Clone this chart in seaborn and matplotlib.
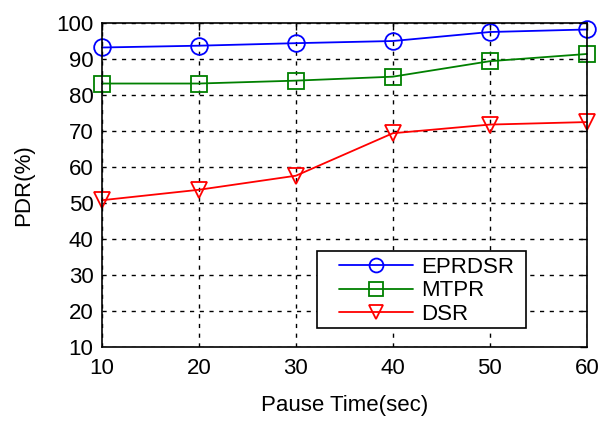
import matplotlib
matplotlib.use("Agg")
import matplotlib.pyplot as plt
from matplotlib.patches import Rectangle
import seaborn as sns
import pandas as pd

pause_time = [10, 20, 30, 40, 50, 60]
eprdsr = [93.2, 93.7, 94.4, 95.0, 97.5, 98.2]
mtpr = [83.2, 83.2, 84.0, 85.1, 89.4, 91.4]
dsr = [50.8, 53.7, 57.6, 69.4, 71.8, 72.5]
series_names = ["EPRDSR", "MTPR", "DSR"]
y_ticks = [10, 20, 30, 40, 50, 60, 70, 80, 90, 100]

df = pd.DataFrame({
    "Pause Time(sec)": pause_time * 3,
    "PDR(%)": eprdsr + mtpr + dsr,
    "Series": [series_names[0]] * 6 + [series_names[1]] * 6 + [series_names[2]] * 6,
})

sns.set_style("white")
plt.rcParams['font.family'] = ['Liberation Sans', 'DejaVu Sans']
plt.rcParams['text.color'] = 'black'
plt.rcParams['axes.labelcolor'] = 'black'

fig = plt.figure(figsize=(6.1, 4.26), dpi=100)
ax = fig.add_axes([0.167, 0.185, 0.795, 0.761])

sns.lineplot(data=df, x="Pause Time(sec)", y="PDR(%)", hue="Series", style="Series",
             palette={"EPRDSR": "#0000ff", "MTPR": "#008000", "DSR": "#ff0000"},
             markers={"EPRDSR": "o", "MTPR": "s", "DSR": "v"},
             dashes=False, markersize=12, markerfacecolor="none",
             markeredgewidth=1.3, linewidth=1.3, ax=ax)
for line in ax.get_lines():
    line.set_markerfacecolor("none")
    line.set_markeredgecolor(line.get_color())
    line.set_clip_on(False)

ax.set_xlim(10, 60)
ax.set_ylim(10, 100)
ax.set_xticks(pause_time)
ax.set_yticks(y_ticks)
ax.grid(True, color="black", linestyle=(0, (3, 4)), linewidth=1.0)
for s in ax.spines.values():
    s.set_color("black")
    s.set_linewidth(1.2)
ax.tick_params(direction="in", length=5, width=1, top=True, right=True,
               labelsize=16, colors="black")
ax.tick_params(axis="x", pad=8)
ax.tick_params(axis="y", pad=6)
ax.set_xlabel("Pause Time(sec)", fontsize=16, labelpad=11, color="black")
ax.set_ylabel("PDR(%)", fontsize=16, labelpad=16, color="black")

# legend frame (wider horizontal padding than vertical, as in the reference)
frame = Rectangle((0.443, 0.059), 0.431, 0.237, transform=ax.transAxes,
                  facecolor="white", edgecolor="black", linewidth=1.2, zorder=4.5)
ax.add_patch(frame)

handles, labels = ax.get_legend_handles_labels()
leg = ax.legend(handles, labels, loc="lower right", bbox_to_anchor=(0.851, 0.068),
                fontsize=16, frameon=False,
                handlelength=3.3, handletextpad=0.4, labelspacing=0.12,
                borderpad=0.0, borderaxespad=0.0)
leg.set_zorder(5)
for lh in leg.get_lines():
    lh.set_markerfacecolor("none")
    lh.set_markersize(10)

fig.savefig("out.png", dpi=100)
